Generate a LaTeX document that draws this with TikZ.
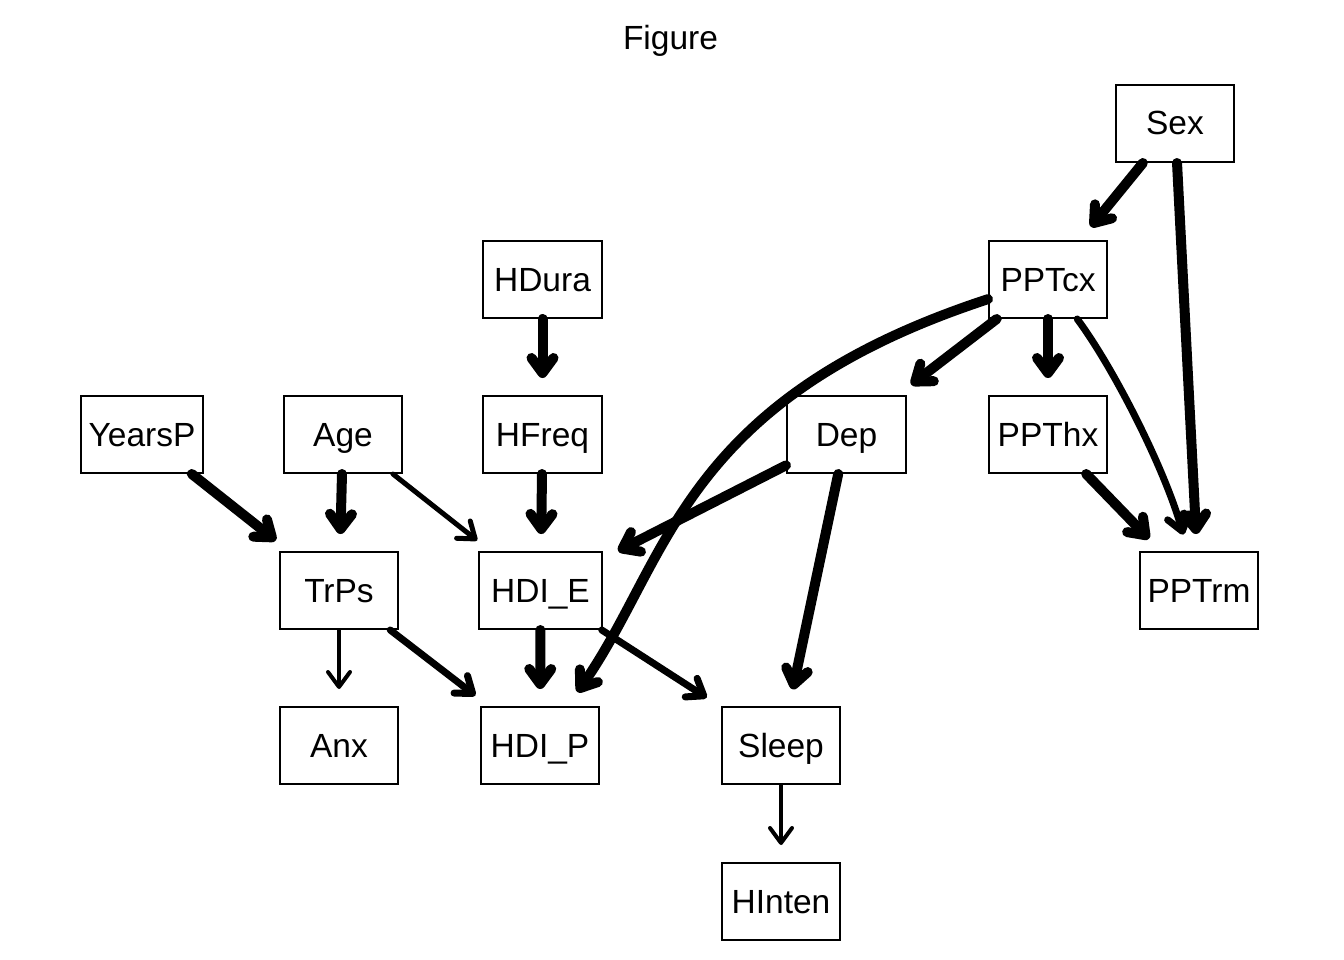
\documentclass[tikz,border=0pt]{standalone}
\usepackage{fontspec}
\setmainfont{Liberation Sans}
\usetikzlibrary{arrows.meta}
\begin{document}
\begin{tikzpicture}[x=1pt,y=-1pt,
  box/.style={draw, line width=2pt, minimum height=77pt, minimum width=118pt, inner sep=0pt,
    font=\fontsize{33.5}{40}\selectfont, text height=24pt, text depth=1pt},
  arr/.style={-{Straight Barb[length=15pt, width=22pt, round]}, line cap=round, line join=round, shorten >=17pt},
  wA/.style={arr, line width=10pt},
  wB/.style={arr, line width=7pt},
  wC/.style={arr, line width=5pt},
  wD/.style={arr, line width=4pt}]
\useasboundingbox (0,0) rectangle (1344,960);
\node[font=\fontsize{33.5}{40}\selectfont, anchor=base] (title) at (670.5,50) {Figure};
\node[box] (Sex) at (1175,123.5) {Sex};
\node[box] (PPTcx) at (1048,279.5) {PPTcx};
\node[box, minimum width=119pt] (HDura) at (542.5,279.5) {HDura};
\node[box, minimum width=122pt] (YearsP) at (142,434.5) {YearsP};
\node[box] (Age) at (343,434.5) {Age};
\node[box, minimum width=119pt] (HFreq) at (542.5,434.5) {HFreq};
\node[box, minimum width=119pt] (Dep) at (846.5,434.5) {Dep};
\node[box] (PPThx) at (1048,434.5) {PPThx};
\node[box] (TrPs) at (339,590.5) {TrPs};
\node[box, minimum width=123pt] (HDIE) at (540.5,590.5) {HDI\_E};
\node[box] (PPTrm) at (1199,590.5) {PPTrm};
\node[box] (Anx) at (339,745.5) {Anx};
\node[box] (HDIP) at (540,745.5) {HDI\_P};
\node[box] (Sleep) at (781,745.5) {Sleep};
\node[box] (HInten) at (781,901.5) {HInten};
% thick
\draw[wA] (Sex) -- (PPTcx);
\draw[wA] (Sex) -- (PPTrm);
\draw[wA] (PPTcx) -- (Dep);
\draw[wA] (PPTcx) -- (PPThx);
\draw[wA] (PPTcx) .. controls (680,400) and (670,560) .. (HDIP);
\draw[wA] (HDura) -- (HFreq);
\draw[wA] (YearsP) -- (TrPs);
\draw[wA] (Age) -- (TrPs);
\draw[wA] (HFreq) -- (HDIE);
\draw[wA] (Dep) -- (HDIE);
\draw[wA] (Dep) -- (Sleep);
\draw[wA] (PPThx) -- (PPTrm);
\draw[wA] (HDIE) -- (HDIP);
% medium
\draw[wB] (PPTcx) .. controls (1115,370) and (1165,470) .. (PPTrm);
\draw[wB] (TrPs) -- (HDIP);
\draw[wB] (HDIE) -- (Sleep);
% thin
\draw[wC] (Age) -- (HDIE);
\draw[wD] (TrPs) -- (Anx);
\draw[wD] (Sleep) -- (HInten);
\end{tikzpicture}
\end{document}
